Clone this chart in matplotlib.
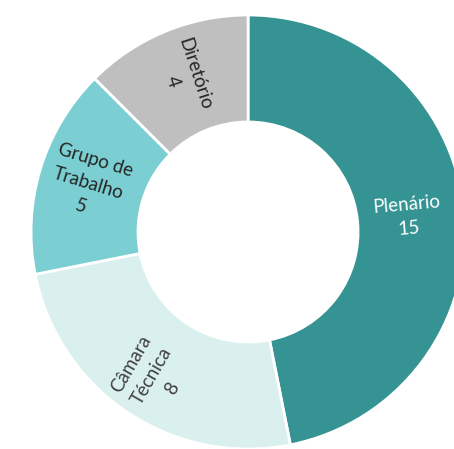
import numpy as np
import matplotlib
matplotlib.use("Agg")
import matplotlib.pyplot as plt

names = ['Plenário', 'Câmara\nTécnica', 'Grupo de\nTrabalho', 'Diretório']
values = [15, 8, 5, 4]
colors = ['#359393', '#DAF0EF', '#7BCFD2', '#BFBFBF']
text_colors = ['white', '#404040', '#262626', '#262626']
rotations = [5, 60, -17, -72]
label_r = [0.74, 0.80, 0.77, 0.77]

plt.rcParams['font.family'] = ['Lato', 'DejaVu Sans']

fig = plt.figure(figsize=(4.54, 4.49), dpi=100)
ax = fig.add_axes([0, 0, 1, 1])

wedges, _ = ax.pie(values, colors=colors, startangle=90, counterclock=False,
                   radius=1, wedgeprops=dict(width=0.493, edgecolor='white', linewidth=2))

for i, w in enumerate(wedges):
    mid = np.deg2rad((w.theta1 + w.theta2) / 2)
    r = label_r[i]
    ax.text(r * np.cos(mid), r * np.sin(mid), f"{names[i]}\n{values[i]}",
            ha='center', va='center', rotation=rotations[i], rotation_mode='anchor',
            fontsize=13.5, color=text_colors[i], linespacing=1.5, multialignment='center')

ax.set_xlim(-1.143, 0.949)
ax.set_ylim(-1.0, 1.069)
ax.set_aspect('equal')
ax.axis('off')

fig.savefig('out.png', dpi=100)
